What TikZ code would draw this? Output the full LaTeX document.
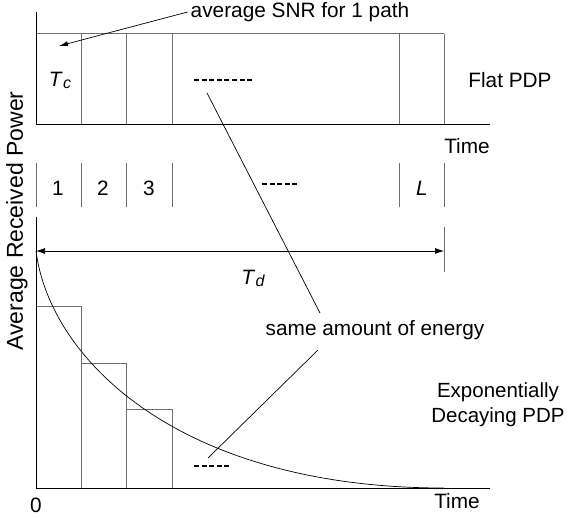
\documentclass[tikz,border=0pt]{standalone}
\usepackage{fontspec}
\setmainfont{Liberation Sans}
\usepackage{tikz}
\usepackage{xcolor}
\usetikzlibrary{arrows.meta,positioning}
\definecolor{ink}{HTML}{000000}
\definecolor{cellgray}{HTML}{707070}
\newcommand{\tsym}[1]{\textit{T}\kern0.3pt\raisebox{-2pt}{\fontsize{16}{16}\selectfont\itshape #1}}

\begin{document}
\begin{tikzpicture}[x=1pt,y=-1pt,
    axis/.style={draw=ink,line width=1pt},
    cell/.style={draw=cellgray,line width=1pt},
    guide/.style={draw=ink,line width=0.7pt},
    lbl/.style={inner sep=0pt,font=\fontsize{20.8}{25}\selectfont},
    ellip/.style={draw=ink,line width=2.4pt,dash pattern=on 5pt off 2.6pt}]
  \useasboundingbox (0,0) rectangle (570,518);

  % flat PDP
  \draw[cell] (36,34) -- (444,34);
  \foreach \x in {81,126,172,399,444}
    \draw[cell] (\x,34) -- (\x,125);
  \draw[axis] (36,12) -- (36,125) -- (490,125);
  \node[lbl] (tc) at (60,80) {\tsym{c}};
  \draw[ellip] (194,80) -- (253,80);
  \node[lbl] (flat) at (510,80) {Flat PDP};
  \node[lbl] (timeA) at (467,146) {Time};
  \node[lbl,inner sep=3pt] (snr) at (300,12) {average SNR for 1 path};
  \coordinate (snrtip) at (59,46);
  \draw[guide,-{Latex[length=9pt,width=5pt]}] (snr.west) -- (snrtip);

  % path index
  \foreach \x in {36,81,126,172,399,444}
    \draw[cell] (\x,163) -- (\x,207);
  \node[lbl] (p1) at (58,188) {1};
  \node[lbl] (p2) at (103,188) {2};
  \node[lbl] (p3) at (149,188) {3};
  \node[lbl] (pL) at (422,188) {\textit{L}};
  \draw[ellip] (262,184) -- (298,184);

  % delay spread
  \coordinate (tdL) at (36,251);
  \coordinate (tdR) at (444,251);
  \draw[cell] (444,227) -- (444,272);
  \draw[guide,{Latex[length=9pt,width=6pt]}-{Latex[length=9pt,width=6pt]}] (tdL) -- (tdR);
  \node[lbl] (td) at (253,278) {\tsym{d}};

  % exponentially decaying PDP
  \foreach \a/\b/\h in {36/81/307,81/126/364,126/172/409}
    \draw[cell] (\a,488) |- (\b,\h) -- (\b,488);
  \draw[guide] (tdL) .. controls (50,360) and (180,488) .. (444,488);
  \draw[axis] (36,217) -- (36,488) -- (490,488);
  \draw[ellip] (194,466) -- (230,466);
  \node[lbl] (zero) at (36,505) {0};
  \node[lbl] (timeB) at (457,501) {Time};
  \node[lbl,align=center,font=\fontsize{20.5}{25}\selectfont] (expo) at (498,405)
    {Exponentially\\Decaying PDP};
  \node[lbl,rotate=90,font=\fontsize{23}{28}\selectfont] (ylab) at (17,221)
    {Average Received Power};

  % energy
  \node[lbl] (energy) at (375,330) {same amount of energy};
  \coordinate (flatdots) at (207,93);
  \coordinate (expdots) at (208,458);
  \coordinate (enA) at (320,313);
  \coordinate (enB) at (318,350);
  \draw[guide] (flatdots) -- (enA);
  \draw[guide] (expdots) -- (enB);
\end{tikzpicture}
\end{document}
